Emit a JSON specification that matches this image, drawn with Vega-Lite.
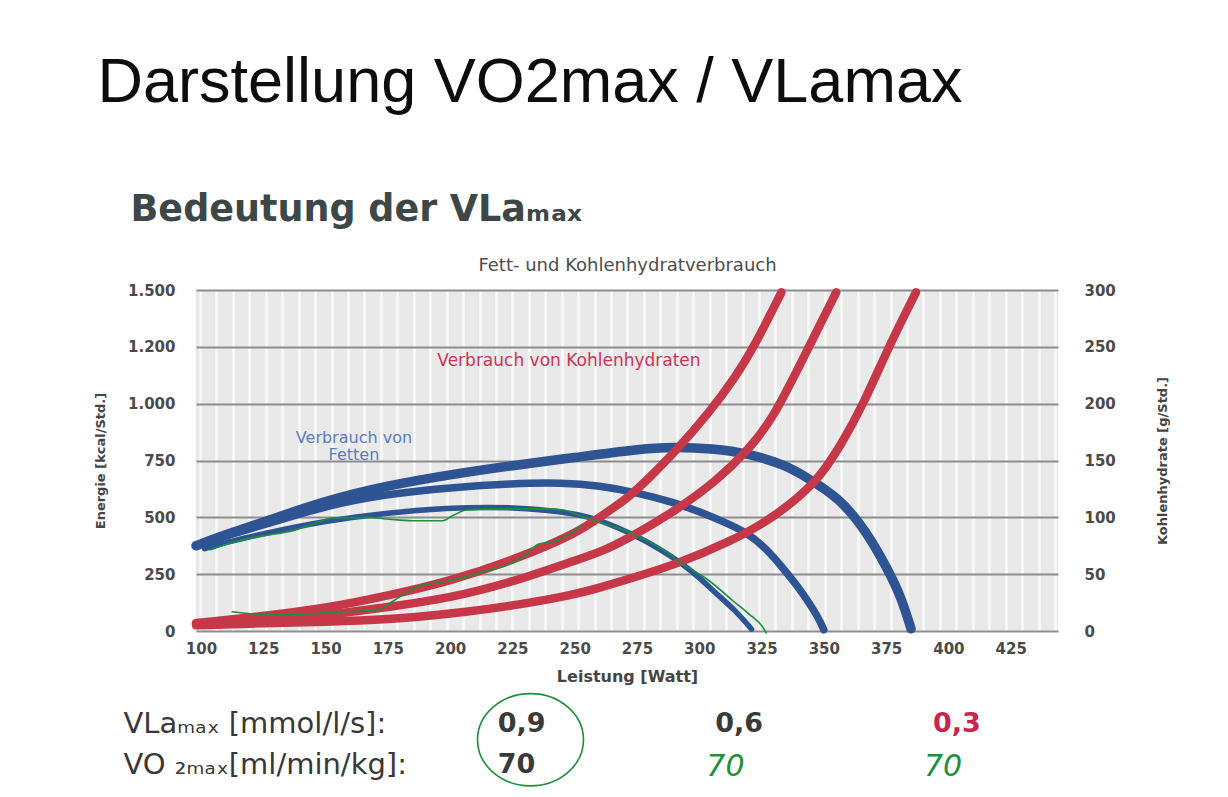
{
  "$schema": "https://vega.github.io/schema/vega-lite/v6.json",
  "background": "white",
  "padding": {"left": 94, "top": 51, "right": 0, "bottom": 0},
  "title": {
    "text": "Darstellung VO2max / VLamax",
    "anchor": "start",
    "font": "Liberation Sans",
    "fontSize": 63,
    "fontWeight": "normal",
    "color": "#0d0d0d",
    "offset": 77,
    "dx": 3
  },
  "config": {"view": {"stroke": null}, "font": "DejaVu Sans"},
  "datasets": {
    "fett": [
      {"vla": "0,9", "watt": 101.5, "kcal": 362}, {"vla": "0,9", "watt": 110, "kcal": 390},
      {"vla": "0,9", "watt": 125, "kcal": 428}, {"vla": "0,9", "watt": 150, "kcal": 485},
      {"vla": "0,9", "watt": 175, "kcal": 521}, {"vla": "0,9", "watt": 200, "kcal": 541},
      {"vla": "0,9", "watt": 215, "kcal": 545}, {"vla": "0,9", "watt": 230, "kcal": 541},
      {"vla": "0,9", "watt": 250, "kcal": 518}, {"vla": "0,9", "watt": 260, "kcal": 490},
      {"vla": "0,9", "watt": 276, "kcal": 412}, {"vla": "0,9", "watt": 285, "kcal": 355},
      {"vla": "0,9", "watt": 293, "kcal": 298}, {"vla": "0,9", "watt": 300, "kcal": 235},
      {"vla": "0,9", "watt": 307, "kcal": 163}, {"vla": "0,9", "watt": 315, "kcal": 85},
      {"vla": "0,9", "watt": 321, "kcal": 8},
      {"vla": "0,6", "watt": 98, "kcal": 375}, {"vla": "0,6", "watt": 110, "kcal": 418},
      {"vla": "0,6", "watt": 125, "kcal": 466}, {"vla": "0,6", "watt": 150, "kcal": 551},
      {"vla": "0,6", "watt": 175, "kcal": 603}, {"vla": "0,6", "watt": 200, "kcal": 631},
      {"vla": "0,6", "watt": 225, "kcal": 649}, {"vla": "0,6", "watt": 245, "kcal": 653},
      {"vla": "0,6", "watt": 260, "kcal": 640}, {"vla": "0,6", "watt": 275, "kcal": 609},
      {"vla": "0,6", "watt": 290, "kcal": 565}, {"vla": "0,6", "watt": 300, "kcal": 525},
      {"vla": "0,6", "watt": 310, "kcal": 480}, {"vla": "0,6", "watt": 320, "kcal": 428},
      {"vla": "0,6", "watt": 327, "kcal": 360}, {"vla": "0,6", "watt": 333, "kcal": 285},
      {"vla": "0,6", "watt": 340, "kcal": 190}, {"vla": "0,6", "watt": 344, "kcal": 125},
      {"vla": "0,6", "watt": 348, "kcal": 55}, {"vla": "0,6", "watt": 350, "kcal": 5},
      {"vla": "0,3", "watt": 98, "kcal": 375}, {"vla": "0,3", "watt": 110, "kcal": 425},
      {"vla": "0,3", "watt": 125, "kcal": 478}, {"vla": "0,3", "watt": 150, "kcal": 574},
      {"vla": "0,3", "watt": 175, "kcal": 640}, {"vla": "0,3", "watt": 200, "kcal": 688},
      {"vla": "0,3", "watt": 225, "kcal": 728}, {"vla": "0,3", "watt": 250, "kcal": 763},
      {"vla": "0,3", "watt": 275, "kcal": 800}, {"vla": "0,3", "watt": 290, "kcal": 810},
      {"vla": "0,3", "watt": 305, "kcal": 803}, {"vla": "0,3", "watt": 320, "kcal": 781},
      {"vla": "0,3", "watt": 335, "kcal": 728}, {"vla": "0,3", "watt": 343, "kcal": 676},
      {"vla": "0,3", "watt": 356, "kcal": 588}, {"vla": "0,3", "watt": 367, "kcal": 441},
      {"vla": "0,3", "watt": 376, "kcal": 265}, {"vla": "0,3", "watt": 381, "kcal": 150},
      {"vla": "0,3", "watt": 385, "kcal": 10}
    ],
    "kohlenhydrate": [
      {"vla": "0,9", "watt": 98, "g": 7}, {"vla": "0,9", "watt": 125, "g": 13},
      {"vla": "0,9", "watt": 150, "g": 20}, {"vla": "0,9", "watt": 175, "g": 31},
      {"vla": "0,9", "watt": 200, "g": 44}, {"vla": "0,9", "watt": 225, "g": 62},
      {"vla": "0,9", "watt": 250, "g": 85}, {"vla": "0,9", "watt": 260, "g": 100},
      {"vla": "0,9", "watt": 272, "g": 118}, {"vla": "0,9", "watt": 280, "g": 135},
      {"vla": "0,9", "watt": 290, "g": 157}, {"vla": "0,9", "watt": 304, "g": 192},
      {"vla": "0,9", "watt": 315, "g": 225}, {"vla": "0,9", "watt": 322, "g": 250},
      {"vla": "0,9", "watt": 333, "g": 298},
      {"vla": "0,6", "watt": 98, "g": 6}, {"vla": "0,6", "watt": 125, "g": 9},
      {"vla": "0,6", "watt": 150, "g": 14}, {"vla": "0,6", "watt": 175, "g": 21},
      {"vla": "0,6", "watt": 200, "g": 29}, {"vla": "0,6", "watt": 225, "g": 43},
      {"vla": "0,6", "watt": 250, "g": 62}, {"vla": "0,6", "watt": 260, "g": 69},
      {"vla": "0,6", "watt": 272, "g": 82}, {"vla": "0,6", "watt": 290, "g": 105},
      {"vla": "0,6", "watt": 307, "g": 132}, {"vla": "0,6", "watt": 320, "g": 160},
      {"vla": "0,6", "watt": 330, "g": 188}, {"vla": "0,6", "watt": 344, "g": 250},
      {"vla": "0,6", "watt": 355, "g": 298},
      {"vla": "0,3", "watt": 98, "g": 5}, {"vla": "0,3", "watt": 125, "g": 7},
      {"vla": "0,3", "watt": 150, "g": 8}, {"vla": "0,3", "watt": 175, "g": 10},
      {"vla": "0,3", "watt": 200, "g": 15}, {"vla": "0,3", "watt": 225, "g": 22},
      {"vla": "0,3", "watt": 250, "g": 32}, {"vla": "0,3", "watt": 260, "g": 38},
      {"vla": "0,3", "watt": 272, "g": 46}, {"vla": "0,3", "watt": 290, "g": 58},
      {"vla": "0,3", "watt": 313, "g": 79}, {"vla": "0,3", "watt": 330, "g": 100},
      {"vla": "0,3", "watt": 347, "g": 130}, {"vla": "0,3", "watt": 357, "g": 164},
      {"vla": "0,3", "watt": 366, "g": 200}, {"vla": "0,3", "watt": 376, "g": 250},
      {"vla": "0,3", "watt": 387, "g": 298}
    ],
    "notizen": [
      {"linie": "Fett", "watt": 103.6, "kcal": 356}, {"linie": "Fett", "watt": 113, "kcal": 390},
      {"linie": "Fett", "watt": 125, "kcal": 419}, {"linie": "Fett", "watt": 137, "kcal": 441},
      {"linie": "Fett", "watt": 145, "kcal": 471}, {"linie": "Fett", "watt": 153, "kcal": 497},
      {"linie": "Fett", "watt": 166.5, "kcal": 500}, {"linie": "Fett", "watt": 174.5, "kcal": 493},
      {"linie": "Fett", "watt": 185, "kcal": 485}, {"linie": "Fett", "watt": 197, "kcal": 485},
      {"linie": "Fett", "watt": 201, "kcal": 507}, {"linie": "Fett", "watt": 206.6, "kcal": 532},
      {"linie": "Fett", "watt": 218.7, "kcal": 537}, {"linie": "Fett", "watt": 238.7, "kcal": 537},
      {"linie": "Fett", "watt": 245.4, "kcal": 532}, {"linie": "Fett", "watt": 252, "kcal": 507},
      {"linie": "Fett", "watt": 260, "kcal": 478}, {"linie": "Fett", "watt": 272, "kcal": 434},
      {"linie": "Fett", "watt": 276, "kcal": 412}, {"linie": "Fett", "watt": 284, "kcal": 368},
      {"linie": "Fett", "watt": 293.5, "kcal": 294}, {"linie": "Fett", "watt": 304, "kcal": 221},
      {"linie": "Fett", "watt": 313.6, "kcal": 132}, {"linie": "Fett", "watt": 320, "kcal": 74},
      {"linie": "Fett", "watt": 325.6, "kcal": 15}, {"linie": "Fett", "watt": 327, "kcal": -12},
      {"linie": "KH", "watt": 112.3, "kcal": 85}, {"linie": "KH", "watt": 125, "kcal": 73.5},
      {"linie": "KH", "watt": 138.4, "kcal": 73.5}, {"linie": "KH", "watt": 151.8, "kcal": 81},
      {"linie": "KH", "watt": 158.5, "kcal": 85}, {"linie": "KH", "watt": 170.5, "kcal": 91},
      {"linie": "KH", "watt": 177.2, "kcal": 132}, {"linie": "KH", "watt": 182.5, "kcal": 169},
      {"linie": "KH", "watt": 187.9, "kcal": 199}, {"linie": "KH", "watt": 195.9, "kcal": 213},
      {"linie": "KH", "watt": 205.3, "kcal": 235}, {"linie": "KH", "watt": 214.6, "kcal": 265},
      {"linie": "KH", "watt": 220, "kcal": 279}, {"linie": "KH", "watt": 228, "kcal": 316},
      {"linie": "KH", "watt": 232, "kcal": 353}, {"linie": "KH", "watt": 235.4, "kcal": 382},
      {"linie": "KH", "watt": 242.7, "kcal": 397}, {"linie": "KH", "watt": 248, "kcal": 427},
      {"linie": "KH", "watt": 252.8, "kcal": 468}
    ],
    "text_fett": [{"text": "Verbrauch von\nFetten", "watt": 161.4, "kcal": 851}],
    "text_kh": [{"text": "Verbrauch von Kohlenhydraten", "watt": 247.7, "g": 237.4}],
    "tabelle": [
      {"zeile": "VLaₘₐₓ [mmol/l/s]:", "spalte": "0,9", "wert": "0,9", "schrift": "druck"},
      {"zeile": "VLaₘₐₓ [mmol/l/s]:", "spalte": "0,6", "wert": "0,6", "schrift": "druck"},
      {"zeile": "VLaₘₐₓ [mmol/l/s]:", "spalte": "0,3", "wert": "0,3", "schrift": "druck"},
      {"zeile": "VO ₂ₘₐₓ[ml/min/kg]:", "spalte": "0,9", "wert": "70", "schrift": "druck"},
      {"zeile": "VO ₂ₘₐₓ[ml/min/kg]:", "spalte": "0,6", "wert": "70", "schrift": "hand"},
      {"zeile": "VO ₂ₘₐₓ[ml/min/kg]:", "spalte": "0,3", "wert": "70", "schrift": "hand"}
    ],
    "markierung": [{"spalte": "0,9"}]
  },
  "vconcat": [
    {
      "width": 862,
      "height": 341,
      "view": {"fill": "#e9e9e9", "stroke": null},
      "title": {
        "text": "Bedeutung der VLaₘₐₓ",
        "anchor": "start",
        "font": "DejaVu Sans",
        "fontSize": 36.5,
        "fontWeight": "bold",
        "color": "#3e4747",
        "offset": 28,
        "dx": 36
      },
      "layer": [
        {
          "layer": [
            {
              "data": {"name": "fett"},
              "mark": {"type": "line", "color": "#2e5494", "strokeCap": "round", "interpolate": "basis"},
              "encoding": {
                "x": {
                  "field": "watt", "type": "quantitative",
                  "scale": {"domain": [98, 444], "nice": false, "zero": false},
                  "axis": {
                    "orient": "bottom", "title": null, "labels": false, "ticks": false, "domain": false,
                    "grid": true, "gridColor": "#f9f9f9", "gridWidth": 2.5, "tickCount": 100,
                    "values": [99.6, 106.2, 112.8, 119.4, 126, 132.6, 139.2, 145.8, 152.4, 159, 165.6, 172.2, 178.8, 185.4, 192, 198.6, 205.2, 211.8, 218.4, 225, 231.6, 238.2, 244.8, 251.4, 258, 264.6, 271.2, 277.8, 284.4, 291, 297.6, 304.2, 310.8, 317.4, 324, 330.6, 337.2, 343.8, 350.4, 357, 363.6, 370.2, 376.8, 383.4, 390, 396.6, 403.2, 409.8, 416.4, 423, 429.6, 436.2, 442.8]
                  }
                },
                "y": {
                  "field": "kcal", "type": "quantitative",
                  "scale": {"domain": [0, 1500], "nice": false},
                  "axis": {
                    "orient": "left",
                    "values": [0, 250, 500, 750, 1000, 1250, 1500],
                    "labelExpr": "datum.value == 1250 ? '1.200' : replace(format(datum.value, ','), ',', '.')",
                    "grid": true, "gridColor": "#8e8e8e", "gridWidth": 2,
                    "ticks": false, "domain": false,
                    "labelFont": "DejaVu Sans", "labelFontWeight": "bold", "labelFontSize": 15,
                    "labelColor": "#4a4a4a", "labelPadding": 21,
                    "title": "Energie [kcal/Std.]",
                    "titleFont": "DejaVu Sans", "titleFontSize": 13, "titleFontWeight": "bold",
                    "titleColor": "#454545", "titlePadding": 20
                  }
                },
                "detail": {"field": "vla"},
                "strokeWidth": {
                  "field": "vla", "type": "nominal",
                  "scale": {"domain": ["0,9", "0,6", "0,3"], "range": [5.5, 9.5, 10.5]},
                  "legend": null
                }
              }
            },
            {
              "data": {"name": "text_fett"},
              "mark": {
                "type": "text", "color": "#5a7dc2", "font": "DejaVu Sans", "fontSize": 16,
                "lineBreak": "\n", "lineHeight": 17, "align": "center", "baseline": "middle"
              },
              "encoding": {
                "x": {"field": "watt", "type": "quantitative"},
                "y": {"field": "kcal", "type": "quantitative"},
                "text": {"field": "text"}
              }
            }
          ]
        },
        {
          "data": {"name": "kohlenhydrate"},
          "mark": {"type": "line", "color": "#c63848", "strokeCap": "round", "interpolate": "basis"},
          "encoding": {
            "x": {
              "field": "watt", "type": "quantitative",
              "scale": {"domain": [98, 444], "nice": false, "zero": false},
              "axis": {
                "orient": "bottom",
                "values": [100, 125, 150, 175, 200, 225, 250, 275, 300, 325, 350, 375, 400, 425],
                "grid": false, "ticks": false, "domain": false, "tickCount": 100,
                "labelFont": "DejaVu Sans", "labelFontWeight": "bold", "labelFontSize": 15,
                "labelColor": "#4a4a4a", "labelPadding": 10,
                "title": "Leistung  [Watt]",
                "titleFont": "DejaVu Sans", "titleFontSize": 16, "titleFontWeight": "bold",
                "titleColor": "#454545", "titlePadding": 12
              }
            },
            "y": {
              "field": "g", "type": "quantitative",
              "scale": {"domain": [0, 300], "nice": false},
              "axis": {
                "orient": "right",
                "values": [0, 50, 100, 150, 200, 250, 300],
                "grid": false, "ticks": false, "domain": false,
                "labelFont": "DejaVu Sans", "labelFontWeight": "bold", "labelFontSize": 15,
                "labelColor": "#4a4a4a", "labelPadding": 26,
                "title": "Kohlenhydrate [g/Std.]", "titleAngle": 270,
                "titleFont": "DejaVu Sans", "titleFontSize": 13, "titleFontWeight": "bold",
                "titleColor": "#454545", "titlePadding": 54
              }
            },
            "detail": {"field": "vla"},
            "strokeWidth": {
              "field": "vla", "type": "nominal",
              "scale": {"domain": ["0,9", "0,6", "0,3"], "range": [8.5, 8.5, 9]},
              "legend": null
            }
          }
        },
        {
          "data": {"name": "text_kh"},
          "mark": {
            "type": "text", "color": "#cc3358", "font": "DejaVu Sans", "fontSize": 17,
            "align": "center", "baseline": "middle"
          },
          "encoding": {
            "x": {
              "field": "watt", "type": "quantitative",
              "scale": {"domain": [98, 444], "nice": false, "zero": false},
              "axis": {
                "orient": "top", "labels": false, "ticks": false, "domain": false, "grid": false,
                "title": "Fett- und Kohlenhydratverbrauch",
                "titleFont": "DejaVu Sans", "titleFontSize": 18, "titleFontWeight": "normal",
                "titleColor": "#4d4d4d", "titlePadding": 16
              }
            },
            "y": {
              "field": "g", "type": "quantitative",
              "scale": {"domain": [0, 300], "nice": false},
              "axis": null
            },
            "text": {"field": "text"}
          }
        },
        {
          "data": {"name": "notizen"},
          "mark": {"type": "line", "color": "#17913b", "strokeWidth": 1.6, "interpolate": "monotone"},
          "encoding": {
            "x": {
              "field": "watt", "type": "quantitative",
              "scale": {"domain": [98, 444], "nice": false, "zero": false},
              "axis": null
            },
            "y": {
              "field": "kcal", "type": "quantitative",
              "scale": {"domain": [0, 1500], "nice": false},
              "axis": null
            },
            "detail": {"field": "linie"}
          }
        }
      ],
      "resolve": {
        "scale": {"y": "independent", "strokeWidth": "independent"},
        "axis": {"x": "independent", "y": "independent"}
      }
    },
    {
      "width": 862,
      "height": 82,
      "view": {"stroke": null},
      "encoding": {
        "x": {
          "field": "spalte", "type": "nominal",
          "scale": {"type": "point", "domain": ["0,9", "0,6", "0,3"], "padding": 0.98, "align": 0.707},
          "axis": null
        }
      },
      "layer": [
        {
          "data": {"name": "tabelle"},
          "transform": [{"filter": "datum.schrift === 'druck'"}],
          "mark": {"type": "text", "align": "left", "baseline": "middle", "font": "DejaVu Sans", "fontSize": 27, "fontWeight": "bold"},
          "encoding": {
            "y": {
              "field": "zeile", "type": "nominal",
              "scale": {"type": "point", "padding": 0.5, "domain": ["VLaₘₐₓ [mmol/l/s]:", "VO ₂ₘₐₓ[ml/min/kg]:"]},
              "axis": {
                "orient": "left", "title": null, "ticks": false, "domain": false, "grid": false,
                "labelAlign": "left", "labelPadding": 73, "labelLimit": 0,
                "labelFont": "DejaVu Sans", "labelFontSize": 29, "labelColor": "#383838"
              }
            },
            "text": {"field": "wert"},
            "color": {
              "condition": {"test": "datum.schrift === 'druck' && datum.spalte === '0,3'", "value": "#c9264d"},
              "value": "#3a3a3a"
            }
          }
        },
        {
          "data": {"name": "tabelle"},
          "transform": [{"filter": "datum.schrift === 'hand'"}],
          "mark": {
            "type": "text", "align": "left", "baseline": "middle", "font": "DejaVu Sans",
            "fontSize": 30, "fontWeight": 200, "fontStyle": "italic", "color": "#1d8f3a", "dx": -9, "dy": 2
          },
          "encoding": {
            "y": {"field": "zeile", "type": "nominal"},
            "text": {"field": "wert"}
          }
        },
        {
          "data": {"name": "markierung"},
          "mark": {
            "type": "point", "filled": false, "stroke": "#1d8f3a", "strokeWidth": 1.6, "opacity": 1,
            "size": 11236,
            "shape": "M 0.62 -0.95 C 1.17 -0.95 1.62 -0.56 1.62 -0.08 C 1.62 0.40 1.17 0.79 0.62 0.79 C 0.07 0.79 -0.38 0.40 -0.38 -0.08 C -0.38 -0.56 0.07 -0.95 0.62 -0.95"
          },
          "encoding": {}
        }
      ]
    }
  ],
  "spacing": 6
}
